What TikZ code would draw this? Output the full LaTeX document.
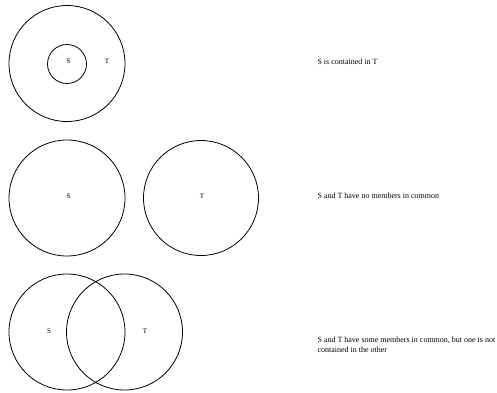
\documentclass[tikz,border=0pt]{standalone}
\usepackage{fontspec}
\setmainfont{Liberation Serif}

\begin{document}
\begin{tikzpicture}[x=1pt, y=-1pt,
    set/.style={draw, circle, line width=0.8pt, inner sep=0pt},
    lbl/.style={font=\fontsize{7}{8}\selectfont},
    note/.style={font=\fontsize{8}{10}\selectfont, anchor=west, align=left}]
    \useasboundingbox (0,0) rectangle (497,392);
    % S is contained in T
    \node[set, minimum size=116pt] (t1) at (67,63.5) {};
    \node[set, minimum size=39pt] (s1) at (67,64) {};
    \node[lbl] (s1l) at (68.5,61) {S};
    \node[lbl] (t1l) at (107,61) {T};
    \node[note] (n1) at (314,62) {S is contained in T};
    % no members in common
    \node[set, minimum size=116pt] (s2) at (67,198) {};
    \node[set, minimum size=115pt] (t2) at (201,198) {};
    \node[lbl] (s2l) at (68.5,196) {S};
    \node[lbl] (t2l) at (202,196) {T};
    \node[note] (n2) at (314,196) {S and T have no members in common};
    % some members in common
    \node[set, minimum size=116pt] (s3) at (67,332) {};
    \node[set, minimum size=116pt] (t3) at (124.5,332) {};
    \node[lbl] (s3l) at (49,331) {S};
    \node[lbl] (t3l) at (145,331) {T};
    \node[note, anchor=north west] (n3) at (314,333.5)
        {S and T have some members in common, but one is not\\contained in the other};
\end{tikzpicture}
\end{document}
